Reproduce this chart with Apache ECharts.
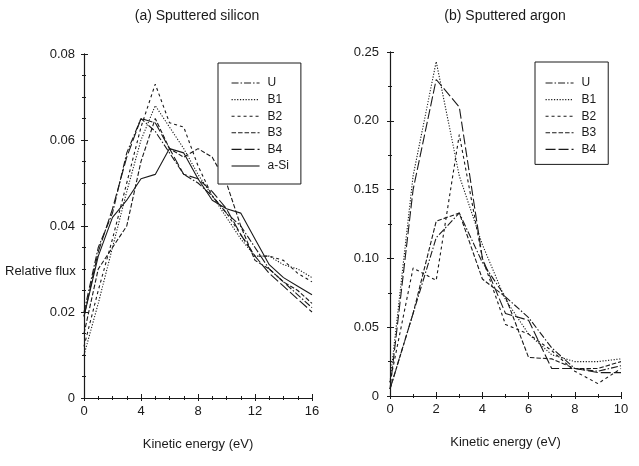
<!DOCTYPE html>
<html>
<head>
<meta charset="utf-8">
<script src="https://cdn.jsdelivr.net/npm/echarts@6/dist/echarts.min.js"></script>
<style>
  html, body { margin: 0; padding: 0; background: #fff; }
  #chart { width: 639px; height: 466px; }
</style>
</head>
<body>
<div id="chart"></div>
<script>
// Kinetic energy grids (eV)
const energySi = [0, 1, 2, 3, 4, 5, 6, 7, 8, 9, 10, 11, 12, 13, 14, 15, 16];
const energyAr = [0, 1, 2, 3, 4, 5, 6, 7, 8, 9, 10];

// (a) Sputtered silicon: relative flux per energy bin
const siU   = [0.020, 0.035, 0.043, 0.057, 0.065, 0.062, 0.057, 0.052, 0.050, 0.047, 0.043, 0.040, 0.035, 0.030, 0.027, 0.024, 0.021];
const siB1  = [0.010, 0.022, 0.035, 0.048, 0.060, 0.068, 0.063, 0.058, 0.052, 0.047, 0.042, 0.037, 0.033, 0.033, 0.031, 0.030, 0.028];
const siB2  = [0.012, 0.025, 0.037, 0.050, 0.063, 0.073, 0.064, 0.063, 0.054, 0.047, 0.043, 0.038, 0.033, 0.033, 0.032, 0.029, 0.027];
const siB3  = [0.015, 0.030, 0.035, 0.040, 0.055, 0.065, 0.058, 0.056, 0.058, 0.056, 0.050, 0.040, 0.032, 0.030, 0.027, 0.025, 0.022];
const siB4  = [0.019, 0.034, 0.044, 0.056, 0.065, 0.064, 0.058, 0.052, 0.051, 0.048, 0.044, 0.038, 0.033, 0.029, 0.026, 0.023, 0.020];
const siASi = [0.019, 0.033, 0.042, 0.046, 0.051, 0.052, 0.058, 0.057, 0.051, 0.046, 0.044, 0.043, 0.037, 0.031, 0.028, 0.026, 0.024];

// (b) Sputtered argon: relative flux per energy bin
const arU  = [0.005, 0.060, 0.115, 0.133, 0.097, 0.072, 0.057, 0.035, 0.020, 0.018, 0.022];
const arB1 = [0.010, 0.160, 0.243, 0.160, 0.110, 0.070, 0.045, 0.030, 0.025, 0.025, 0.027];
const arB2 = [0.010, 0.093, 0.084, 0.190, 0.100, 0.052, 0.045, 0.033, 0.018, 0.009, 0.020];
const arB3 = [0.005, 0.060, 0.127, 0.133, 0.085, 0.072, 0.028, 0.027, 0.020, 0.020, 0.025];
const arB4 = [0.005, 0.150, 0.230, 0.210, 0.100, 0.060, 0.055, 0.020, 0.020, 0.017, 0.017];

const siNames = ['U', 'B1', 'B2', 'B3', 'B4', 'a-Si'];
const arNames = ['U', 'B1', 'B2', 'B3', 'B4'];

const ink = '#1a1a1a';
const font = 'Liberation Sans, Arial, sans-serif';

// dash pattern per sample
const dashes = {
  'U':    [7, 2, 1.5, 2],
  'B1':   [1.2, 1.6],
  'B2':   [3, 3],
  'B3':   [4.5, 2],
  'B4':   [10, 3],
  'a-Si': 'solid'
};

function pairs(xs, ys) { return xs.map((x, i) => [x, ys[i]]); }

function lineSeries(name, xs, ys, axisIdx) {
  return {
    name: name,
    type: 'line',
    xAxisIndex: axisIdx,
    yAxisIndex: axisIdx,
    data: pairs(xs, ys),
    symbol: 'none',
    animation: false,
    lineStyle: { color: ink, width: 1.1, type: dashes[name] },
    itemStyle: { color: ink }
  };
}

const yFmt = v => (v === 0 ? '0' : v.toFixed(2));

function mainX(grid, max, interval, minor) {
  return {
    type: 'value', gridIndex: grid, min: 0, max: max, interval: interval,
    position: 'bottom',
    name: 'Kinetic energy (eV)', nameLocation: 'middle', nameGap: 40,
    nameTextStyle: { color: ink, fontSize: 13, fontFamily: font },
    axisLine: { lineStyle: { color: ink, width: 1.2 } },
    axisTick: { inside: true, length: 4, lineStyle: { color: ink } },
    minorTick: { show: true, splitNumber: minor, length: 2, lineStyle: { color: ink } },
    axisLabel: { color: ink, fontSize: 13, fontFamily: font, margin: 7 },
    splitLine: { show: false }
  };
}
function frameX(grid, max, interval, minor) {
  return {
    type: 'value', gridIndex: grid, min: 0, max: max, interval: interval,
    position: 'top',
    axisLine: { lineStyle: { color: ink, width: 1 } },
    axisTick: { inside: true, length: 3, lineStyle: { color: ink } },
    minorTick: { show: true, splitNumber: minor, length: 2, lineStyle: { color: ink } },
    axisLabel: { show: false },
    splitLine: { show: false }
  };
}
function mainY(grid, max, interval, minor, margin) {
  return {
    type: 'value', gridIndex: grid, min: 0, max: max, interval: interval,
    position: 'left',
    axisLine: { show: true, lineStyle: { color: ink, width: 1.2 } },
    axisTick: { show: true, inside: true, length: 4, lineStyle: { color: ink } },
    minorTick: { show: true, splitNumber: minor, length: 2, lineStyle: { color: ink } },
    axisLabel: { color: ink, fontSize: 13, fontFamily: font, margin: margin, formatter: yFmt },
    splitLine: { show: false }
  };
}
function frameY(grid, max, interval, minor) {
  return {
    type: 'value', gridIndex: grid, min: 0, max: max, interval: interval,
    position: 'right',
    axisLine: { show: true, lineStyle: { color: ink, width: 1 } },
    axisTick: { show: true, inside: true, length: 3, lineStyle: { color: ink } },
    minorTick: { show: true, splitNumber: minor, length: 2, lineStyle: { color: ink } },
    axisLabel: { show: false },
    splitLine: { show: false }
  };
}

const siSeries = [siU, siB1, siB2, siB3, siB4, siASi].map((ys, i) => lineSeries(siNames[i], energySi, ys, 0));
const arSeries = [arU, arB1, arB2, arB3, arB4].map((ys, i) => lineSeries(arNames[i], energyAr, ys, 2));

// boxed key: line sample only, no point marker
function legendBox(names, left, top, padding) {
  return {
    data: names,
    orient: 'vertical',
    left: left, top: top,
    padding: padding,
    itemWidth: 28, itemHeight: 12, itemGap: 4.6,
    backgroundColor: '#fff',
    borderColor: ink, borderWidth: 1,
    borderRadius: 0,
    itemStyle: { opacity: 0, borderWidth: 0 },
    lineStyle: { width: 1.1 },
    textStyle: { color: ink, fontSize: 12, lineHeight: 12, fontFamily: font, padding: [0, 0, 0, 3] },
    selectedMode: false
  };
}

const chart = echarts.init(document.getElementById('chart'), null, { renderer: 'canvas' });
chart.setOption({
  backgroundColor: '#fff',
  animation: false,
  grid: [
    { left: 84, top: 54, width: 228, height: 344 },
    { left: 390, top: 52, width: 231, height: 344 }
  ],
  xAxis: [
    mainX(0, 16, 4, 4), frameX(0, 16, 4, 4),
    mainX(1, 10, 2, 2), frameX(1, 10, 2, 2)
  ],
  yAxis: [
    mainY(0, 0.08, 0.02, 4, 9), frameY(0, 0.08, 0.02, 4),
    mainY(1, 0.25, 0.05, 2, 11), frameY(1, 0.25, 0.05, 2)
  ],
  legend: [
    legendBox(siNames, 218, 63, [14, 12, 12, 13]),
    legendBox(arNames, 535, 62, [15, 12, 9, 10])
  ],
  graphic: [
    { type: 'text', x: 197, y: 16, style: { text: '(a) Sputtered silicon', fill: ink, font: '14px ' + font, textAlign: 'center', textVerticalAlign: 'middle' } },
    { type: 'text', x: 505, y: 16, style: { text: '(b) Sputtered argon', fill: ink, font: '14px ' + font, textAlign: 'center', textVerticalAlign: 'middle' } },
    { type: 'text', x: 5, y: 271, style: { text: 'Relative flux', fill: ink, font: '13px ' + font, textAlign: 'left', textVerticalAlign: 'middle' } }
  ],
  series: siSeries.concat(arSeries)
});
</script>
</body>
</html>
